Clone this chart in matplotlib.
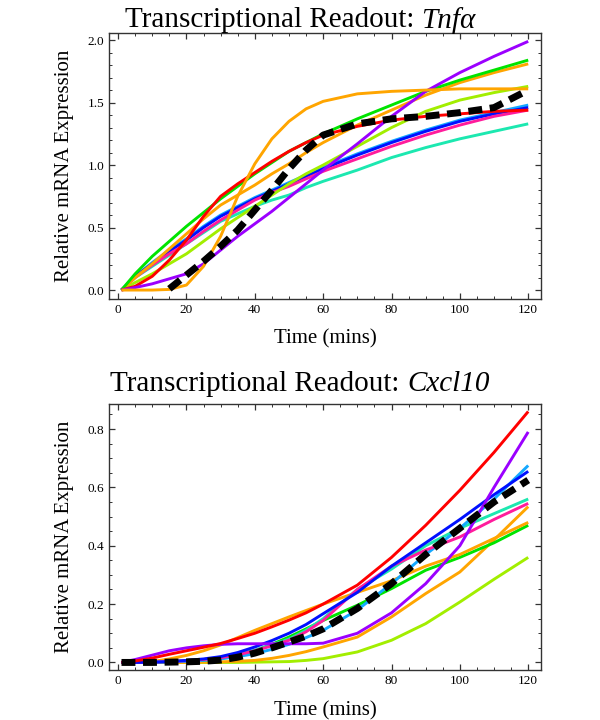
import numpy as np
import matplotlib
matplotlib.use('Agg')
import matplotlib.pyplot as plt
from matplotlib.ticker import MultipleLocator, FormatStrFormatter

plt.rcParams['font.family'] = ['Liberation Serif', 'DejaVu Serif']

# time points (mins)
t = [1, 5, 10, 15, 20, 25, 30, 35, 40, 45, 50, 55, 60, 70, 80, 90, 100, 110, 120]

# --- Tnfa readouts ---
tnf_green = [0, 0.13, 0.27, 0.39, 0.51, 0.62, 0.73, 0.83, 0.93, 1.02, 1.11, 1.18, 1.25, 1.37, 1.48, 1.59, 1.68, 1.76, 1.84]
tnf_orange2 = [0, 0.10, 0.21, 0.33, 0.45, 0.57, 0.68, 0.76, 0.84, 0.93, 1.01, 1.10, 1.18, 1.32, 1.44, 1.56, 1.66, 1.74, 1.81]
tnf_red = [0, 0.03, 0.11, 0.24, 0.40, 0.59, 0.75, 0.85, 0.94, 1.03, 1.11, 1.18, 1.24, 1.31, 1.36, 1.39, 1.41, 1.43, 1.44]
tnf_orange = [0, 0, 0, 0.005, 0.04, 0.19, 0.43, 0.75, 1.01, 1.21, 1.35, 1.45, 1.51, 1.57, 1.59, 1.60, 1.61, 1.61, 1.61]
tnf_blue = [0, 0.11, 0.21, 0.31, 0.40, 0.50, 0.59, 0.66, 0.73, 0.79, 0.85, 0.91, 0.97, 1.08, 1.18, 1.27, 1.35, 1.41, 1.46]
tnf_sky = [0, 0.11, 0.22, 0.32, 0.41, 0.51, 0.60, 0.67, 0.74, 0.80, 0.86, 0.92, 0.98, 1.09, 1.19, 1.28, 1.36, 1.42, 1.48]
tnf_pink = [0, 0.10, 0.20, 0.29, 0.37, 0.47, 0.56, 0.64, 0.72, 0.78, 0.83, 0.89, 0.95, 1.05, 1.15, 1.24, 1.32, 1.39, 1.44]
tnf_teal = [0, 0.10, 0.19, 0.28, 0.37, 0.46, 0.55, 0.61, 0.67, 0.72, 0.76, 0.82, 0.87, 0.96, 1.06, 1.14, 1.21, 1.27, 1.33]
tnf_lime = [0, 0.06, 0.13, 0.21, 0.29, 0.39, 0.49, 0.58, 0.67, 0.76, 0.85, 0.93, 1.00, 1.15, 1.30, 1.43, 1.52, 1.58, 1.63]
tnf_purple = [0, 0.02, 0.05, 0.09, 0.13, 0.21, 0.32, 0.43, 0.53, 0.63, 0.74, 0.85, 0.96, 1.17, 1.39, 1.59, 1.74, 1.87, 1.99]
tnf_data = [np.nan, np.nan, np.nan, 0.01, 0.12, 0.23, 0.35, 0.48, 0.64, 0.80, 0.97, 1.12, 1.24, 1.33, 1.37, 1.39, 1.42, 1.46, 1.60]

# --- Cxcl10 readouts ---
cx_red = [0, 0.005, 0.015, 0.028, 0.04, 0.052, 0.065, 0.082, 0.10, 0.122, 0.145, 0.17, 0.20, 0.265, 0.36, 0.47, 0.59, 0.72, 0.86]
cx_purple = [0, 0.01, 0.025, 0.04, 0.05, 0.057, 0.062, 0.064, 0.064, 0.064, 0.064, 0.064, 0.066, 0.10, 0.17, 0.27, 0.40, 0.60, 0.79]
cx_blue = [0, 0, 0.001, 0.003, 0.007, 0.012, 0.02, 0.034, 0.053, 0.075, 0.10, 0.13, 0.167, 0.24, 0.33, 0.41, 0.49, 0.575, 0.655]
cx_pink = [0, 0, 0.001, 0.003, 0.006, 0.01, 0.016, 0.026, 0.04, 0.057, 0.076, 0.105, 0.144, 0.25, 0.33, 0.385, 0.43, 0.49, 0.545]
cx_teal = [0, 0, 0.001, 0.003, 0.006, 0.01, 0.017, 0.028, 0.042, 0.06, 0.08, 0.11, 0.15, 0.25, 0.32, 0.40, 0.46, 0.51, 0.56]
cx_sky = [0, 0, 0, 0.002, 0.004, 0.007, 0.012, 0.02, 0.03, 0.045, 0.062, 0.085, 0.11, 0.18, 0.27, 0.37, 0.46, 0.56, 0.675]
cx_green = [0, 0, 0.001, 0.002, 0.004, 0.008, 0.015, 0.026, 0.04, 0.062, 0.087, 0.115, 0.144, 0.196, 0.253, 0.316, 0.36, 0.41, 0.47]
cx_orange = [0, 0, 0.003, 0.012, 0.024, 0.04, 0.06, 0.085, 0.11, 0.133, 0.156, 0.178, 0.20, 0.24, 0.28, 0.33, 0.37, 0.425, 0.48]
cx_orange2 = [0, 0, 0, 0, 0, 0.001, 0.002, 0.004, 0.007, 0.014, 0.024, 0.037, 0.053, 0.087, 0.156, 0.236, 0.31, 0.42, 0.534]
cx_lime = [0, 0, 0, 0, 0, 0, 0, 0, 0.001, 0.002, 0.003, 0.007, 0.013, 0.036, 0.076, 0.133, 0.207, 0.285, 0.36]
cx_data = [0, 0, 0, 0.001, 0.002, 0.004, 0.008, 0.018, 0.032, 0.05, 0.07, 0.09, 0.115, 0.185, 0.27, 0.37, 0.46, 0.55, 0.625]

c_purple = '#9B00FF'
c_green = '#00E400'
c_red = '#FF0000'
c_orange = '#FFA500'
c_lime = '#A2EE00'
c_teal = '#1CE8B0'
c_sky = '#14A8FF'
c_blue = '#0010FF'
c_pink = '#FF1C9C'

fig = plt.figure(figsize=(6, 7.2), dpi=100)
ax1 = fig.add_axes([0.182, 0.585, 0.720, 0.369])
ax2 = fig.add_axes([0.182, 0.069, 0.720, 0.370])

lw = 2.1
top_series = [(tnf_teal, c_teal), (tnf_sky, c_sky), (tnf_blue, c_blue), (tnf_pink, c_pink),
              (tnf_lime, c_lime), (tnf_orange2, c_orange), (tnf_green, c_green),
              (tnf_red, c_red), (tnf_purple, c_purple), (tnf_orange, c_orange)]
for y, c in top_series:
    ax1.plot(t, y, color=c, lw=lw, solid_capstyle='butt', solid_joinstyle='round')
ax1.plot(t, tnf_data, color='black', lw=5, dashes=(2.0, 1.1))

bot_series = [(cx_lime, c_lime), (cx_orange2, c_orange), (cx_green, c_green), (cx_orange, c_orange),
              (cx_teal, c_teal), (cx_sky, c_sky), (cx_pink, c_pink), (cx_blue, c_blue),
              (cx_purple, c_purple), (cx_red, c_red)]
for y, c in bot_series:
    ax2.plot(t, y, color=c, lw=lw, solid_capstyle='butt', solid_joinstyle='round')
ax2.plot(t, cx_data, color='black', lw=5, dashes=(2.0, 1.1))

ax1.set_ylim(-0.07, 2.056)
ax2.set_ylim(-0.027, 0.886)
ax1.yaxis.set_major_locator(MultipleLocator(0.5))
ax1.yaxis.set_minor_locator(MultipleLocator(0.1))
ax2.yaxis.set_major_locator(MultipleLocator(0.2))
ax2.yaxis.set_minor_locator(MultipleLocator(0.05))

for ax in (ax1, ax2):
    ax.set_xlim(-2.6, 123.8)
    ax.xaxis.set_major_locator(MultipleLocator(20))
    ax.xaxis.set_minor_locator(MultipleLocator(5))
    ax.yaxis.set_major_formatter(FormatStrFormatter('%.1f'))
    ax.tick_params(which='both', direction='in', top=True, right=True,
                   labelsize=9.5, color='#333333')
    ax.tick_params(which='major', length=4, width=0.9)
    ax.tick_params(which='minor', length=2, width=0.7)
    for s in ax.spines.values():
        s.set_color('#333333')
        s.set_linewidth(1.0)
    ax.set_xlabel('Time (mins)', fontsize=15, labelpad=10)
    ax.set_ylabel('Relative mRNA Expression', fontsize=15, labelpad=10)


# titles: roman part + italic gene name, centred together on the figure
def two_part_title(y, plain, gene):
    renderer = fig.canvas.get_renderer()
    a = fig.text(0, y, plain, ha='left', va='center', fontsize=21)
    b = fig.text(0, y, gene, ha='left', va='center', fontsize=21, style='italic')
    wa = a.get_window_extent(renderer).width / fig.bbox.width
    wb = b.get_window_extent(renderer).width / fig.bbox.width
    x0 = 0.5 - (wa + wb) / 2
    a.set_x(x0)
    b.set_x(x0 + wa)


two_part_title(0.972, 'Transcriptional Readout: ', 'Tnfα')
two_part_title(0.466, 'Transcriptional Readout: ', 'Cxcl10')

fig.savefig('out.png', dpi=100)
